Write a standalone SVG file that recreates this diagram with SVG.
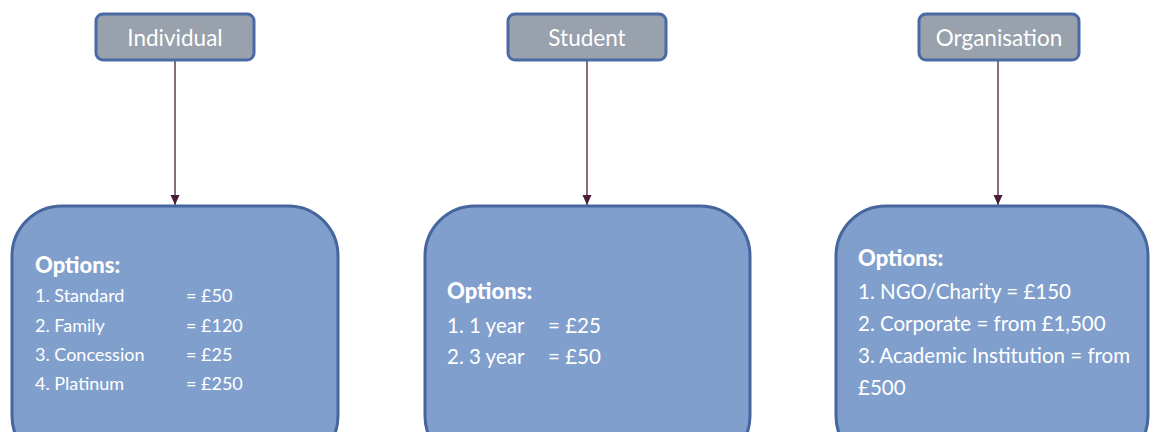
<svg xmlns="http://www.w3.org/2000/svg" width="1150" height="432" viewBox="0 0 1150 432">
  <style>
    .head rect { fill: #98A1AC; stroke: #4A6AA6; stroke-width: 3; }
    .head text { fill: #FFFFFF; font-family: "Lato", "Liberation Sans", sans-serif; font-size: 22.5px; text-anchor: middle; }
    .box rect { fill: #819FCD; stroke: #46669E; stroke-width: 3; }
    .box text { fill: #FFFFFF; font-family: "Lato", "Liberation Sans", sans-serif; font-size: 18px; }
    .box text.big { font-size: 20.5px; }
    .box .title { font-weight: 900; font-size: 22px; }
    .conn line { stroke: #4A1C3A; stroke-width: 1.3; }
  </style>
  <defs>
    <marker id="arrow" markerWidth="12" markerHeight="12" refX="10" refY="5.5" orient="auto" markerUnits="userSpaceOnUse">
      <path d="M0,1 L10,5.5 L0,10 Z" fill="#4A1C3A"/>
    </marker>
  </defs>
  <rect width="1150" height="432" fill="#FFFFFF"/>

  <g class="conn">
    <line x1="175" y1="60" x2="175" y2="205" marker-end="url(#arrow)"/>
    <line x1="587" y1="60" x2="587" y2="205" marker-end="url(#arrow)"/>
    <line x1="998" y1="60" x2="998" y2="205" marker-end="url(#arrow)"/>
  </g>

  <g id="individual" class="head">
    <rect x="96" y="14" width="158" height="46" rx="7"/>
    <text x="175" y="46">Individual</text>
  </g>
  <g id="student" class="head">
    <rect x="508" y="14" width="158" height="46" rx="7"/>
    <text x="587" y="46">Student</text>
  </g>
  <g id="organisation" class="head">
    <rect x="919" y="14" width="160" height="46" rx="7"/>
    <text x="999" y="46">Organisation</text>
  </g>

  <g id="individual-options" class="box">
    <rect x="12" y="206" width="326" height="260" rx="50"/>
    <text class="title" x="35" y="273">Options:</text>
    <text x="35" y="302">1. Standard</text><text x="186" y="302">= £50</text>
    <text x="35" y="332">2. Family</text><text x="186" y="332">= £120</text>
    <text x="35" y="361">3. Concession</text><text x="186" y="361">= £25</text>
    <text x="35" y="390">4. Platinum</text><text x="186" y="390">= £250</text>
  </g>

  <g id="student-options" class="box">
    <rect x="425" y="206" width="325" height="260" rx="50"/>
    <text class="title" x="447" y="299">Options:</text>
    <text class="big" x="447" y="333">1. 1 year</text><text class="big" x="548" y="333">= £25</text>
    <text class="big" x="447" y="364">2. 3 year</text><text class="big" x="548" y="364">= £50</text>
  </g>

  <g id="organisation-options" class="box">
    <rect x="836" y="206" width="312" height="260" rx="50"/>
    <text class="title" x="858" y="266">Options:</text>
    <text class="big" x="858" y="299">1. NGO/Charity = £150</text>
    <text class="big" x="858" y="331">2. Corporate = from £1,500</text>
    <text class="big" x="858" y="363">3. Academic Institution = from</text>
    <text class="big" x="858" y="395">£500</text>
  </g>
</svg>
